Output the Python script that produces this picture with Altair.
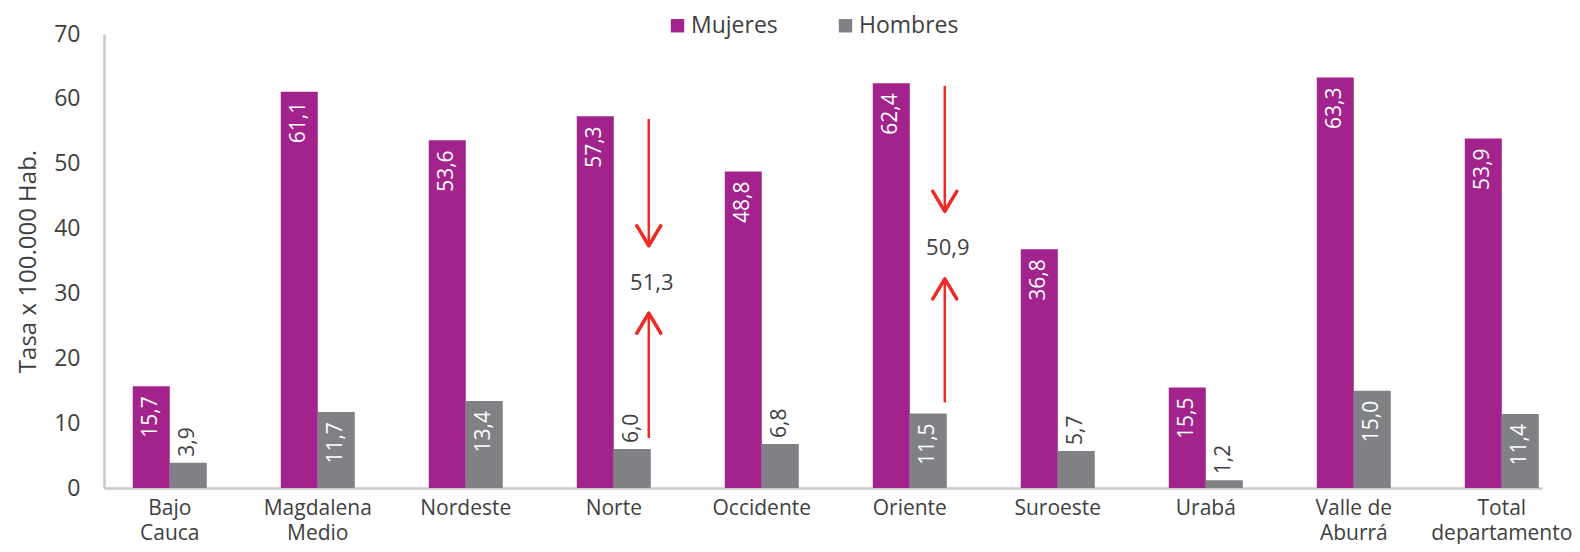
import altair as alt
import pandas as pd

FONT = "Open Sans"
TXT = "#404040"

regions = ["Bajo\nCauca", "Magdalena\nMedio", "Nordeste", "Norte", "Occidente",
           "Oriente", "Suroeste", "Urabá", "Valle de\nAburrá", "Total\ndepartamento"]
mujeres = [15.7, 61.1, 53.6, 57.3, 48.8, 62.4, 36.8, 15.5, 63.3, 53.9]
hombres = [3.9, 11.7, 13.4, 6.0, 6.8, 11.5, 5.7, 1.2, 15.0, 11.4]
series = ["Mujeres", "Hombres"]
colors = ["#A1238B", "#808184"]
y_ticks = [0, 10, 20, 30, 40, 50, 60, 70]

# brecha anotada (Mujeres - Hombres)
gap_regions = ["Norte", "Oriente"]
gap_mujeres = [57.3, 62.4]
gap_hombres = [6.0, 11.5]
gap_values = [51.3, 50.9]


def fmt(v):
    return f"{v:.1f}".replace(".", ",")


rows = []
for r, m, h in zip(regions, mujeres, hombres):
    rows.append({"Region": r, "Serie": "Mujeres", "Valor": m, "Etiqueta": fmt(m)})
    rows.append({"Region": r, "Serie": "Hombres", "Valor": h, "Etiqueta": fmt(h)})
df = pd.DataFrame(rows)

ann = pd.DataFrame({
    "Region": gap_regions,
    "M": gap_mujeres,
    "H": gap_hombres,
    "Gap": [fmt(v) for v in gap_values],
})

x_enc = alt.X(
    "Region:N", sort=regions, title=None,
    scale=alt.Scale(paddingInner=0.5, paddingOuter=0.108, align=0.9),
    axis=alt.Axis(labelAngle=0, ticks=False, labelFontSize=21, labelFont=FONT,
                  labelColor=TXT, labelPadding=9, labelLineHeight=25,
                  domainColor="#C9C9C9", domainWidth=2.5,
                  labelExpr="split(datum.label, '\\n')"),
)
xo_enc = alt.XOffset("Serie:N", sort=series,
                     scale=alt.Scale(paddingInner=0, paddingOuter=0))
y_enc = alt.Y(
    "Valor:Q", scale=alt.Scale(domain=[0, 70], nice=False),
    axis=alt.Axis(values=y_ticks, grid=False, ticks=False, labelFontSize=23,
                  labelFont=FONT, labelColor=TXT, labelPadding=24,
                  domainColor="#C9C9C9", domainWidth=2.5,
                  title="Tasa x 100.000 Hab.", titleFontSize=24, titleFont=FONT,
                  titleColor=TXT, titleFontWeight="normal", titlePadding=13),
)

base = alt.Chart(df)

bars = base.mark_bar().encode(
    x=x_enc, xOffset=xo_enc, y=y_enc,
    color=alt.Color("Serie:N", sort=series,
                    scale=alt.Scale(domain=series, range=colors),
                    legend=alt.Legend(orient="none", legendX=562, legendY=-20,
                                      direction="horizontal", title=None,
                                      symbolType="square", symbolSize=180,
                                      symbolStrokeWidth=0, symbolOpacity=1,
                                      labelFontSize=23, labelFont=FONT,
                                      labelColor=TXT, columnPadding=56,
                                      labelOffset=2)),
)

inside = base.transform_filter(
    "datum.Serie == 'Mujeres' || datum.Valor >= 10"
).mark_text(angle=270, align="right", baseline="middle", dx=-10,
            color="white", fontSize=21, font=FONT).encode(
    x=alt.X("Region:N", sort=regions), xOffset=xo_enc,
    y=alt.Y("Valor:Q"), text="Etiqueta:N")

outside = base.transform_filter(
    "datum.Serie == 'Hombres' && datum.Valor < 10"
).mark_text(angle=270, align="left", baseline="middle", dx=6,
            color=TXT, fontSize=21, font=FONT).encode(
    x=alt.X("Region:N", sort=regions), xOffset=xo_enc,
    y=alt.Y("Valor:Q"), text="Etiqueta:N")

RED = "#EE2A24"
XOFF = 35
ann_base = alt.Chart(ann).transform_calculate(
    mid="(datum.M + datum.H) / 2",
    top="datum.M - 0.4",
    down_tip="(datum.M + datum.H) / 2 + 5.7",
    up_tip="(datum.M + datum.H) / 2 - 4.7",
    bottom="datum.H + 1.7",
)

down_line = ann_base.mark_rule(color=RED, strokeWidth=2.5, xOffset=XOFF).encode(
    x=alt.X("Region:N", sort=regions), y="top:Q", y2="down_tip:Q")
up_line = ann_base.mark_rule(color=RED, strokeWidth=2.5, xOffset=XOFF).encode(
    x=alt.X("Region:N", sort=regions), y="bottom:Q", y2="up_tip:Q")
down_head = ann_base.mark_point(
    shape="M-1,-1.67L0,0L1,-1.67", filled=False, stroke=RED, strokeWidth=3.5,
    size=576, opacity=1, xOffset=XOFF, strokeCap="round", strokeJoin="round"
).encode(x=alt.X("Region:N", sort=regions), y="down_tip:Q")
up_head = ann_base.mark_point(
    shape="M-1,1.67L0,0L1,1.67", filled=False, stroke=RED, strokeWidth=3.5,
    size=576, opacity=1, xOffset=XOFF, strokeCap="round", strokeJoin="round"
).encode(x=alt.X("Region:N", sort=regions), y="up_tip:Q")
gap_text = ann_base.mark_text(
    fontSize=22, font=FONT, color=TXT, xOffset=XOFF + 3, baseline="middle"
).encode(x=alt.X("Region:N", sort=regions), y="mid:Q", text="Gap:N")

chart = alt.layer(
    bars, inside, outside, down_line, up_line, down_head, up_head, gap_text
).properties(
    width=1438, height=454,
    background="white",
    autosize=alt.AutoSizeParams(type="none"),
    padding={"left": 96, "top": 26, "right": 30, "bottom": 56},
).configure_view(strokeWidth=0, stroke=None)

chart.save("out.html", embed_options={"renderer": "svg", "actions": False})
